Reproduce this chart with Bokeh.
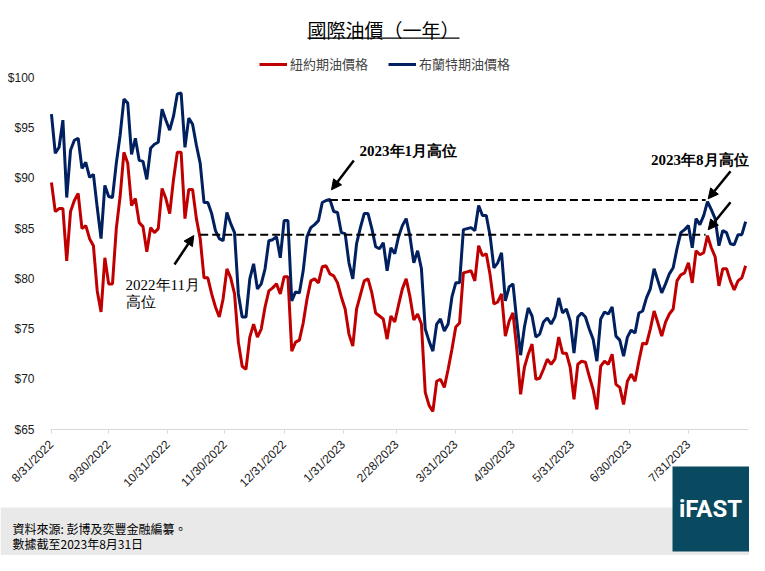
# International oil prices (one year): WTI vs Brent, drawn with bokeh
import math

import pandas as pd

from bokeh.plotting import figure
from bokeh.models import (ColumnDataSource, Range1d, FixedTicker, NumeralTickFormatter,
                          Legend, LegendItem, Label, BoxAnnotation, Arrow, NormalHead)
from bokeh.embed import file_html
from bokeh.resources import INLINE

#### DATA (one point every two days from 8/31/2022) ####
start_date = "2022-08-31"
step_days = 2

# 紐約期油價格 (WTI)
wti = [89.6, 86.7, 87.0, 87.0, 81.8, 86.7, 87.8, 88.5, 85.0, 85.3,
       84.0, 83.3, 78.8, 76.7, 82.1, 79.5, 79.5, 85.0, 88.2, 92.6,
       91.5, 87.3, 88.0, 85.6, 85.2, 82.7, 85.1, 84.6, 85.0, 89.0,
       88.0, 86.5, 89.9, 92.6, 92.6, 86.0, 88.9, 88.9, 86.0, 84.0,
       80.1, 80.1, 78.5, 77.2, 76.2, 78.0, 81.0, 80.1, 78.5, 73.7,
       71.3, 71.0, 74.2, 75.5, 74.2, 75.0, 77.2, 78.8, 79.1, 79.5,
       78.5, 80.2, 80.2, 72.8, 73.7, 73.9, 75.6, 78.0, 79.8, 80.0,
       79.6, 81.2, 81.3, 80.5, 80.3, 79.6, 78.2, 77.0, 74.5, 73.3,
       77.0, 78.4, 79.8, 80.0, 78.6, 76.6, 76.3, 76.0, 74.0, 76.3,
       75.7, 77.4, 79.0, 80.0, 78.2, 75.9, 76.5, 75.5, 68.7, 67.4,
       66.8, 69.8, 70.0, 69.2, 71.0, 73.0, 75.2, 75.6, 80.6, 80.7,
       80.8, 79.8, 83.3, 82.3, 82.5, 80.4, 77.5, 77.7, 78.5, 74.3,
       75.8, 76.6, 73.0, 68.5, 71.2, 72.5, 73.5, 70.0, 70.1, 71.0,
       72.0, 71.5, 72.0, 74.2, 72.6, 72.6, 71.2, 68.0, 71.5, 71.8,
       71.7, 70.3, 69.0, 67.0, 71.3, 71.8, 71.5, 72.5, 69.5, 69.2,
       67.5, 69.8, 70.5, 69.8, 71.8, 73.6, 73.5, 75.0, 76.8, 75.6,
       74.3, 75.7, 76.5, 77.0, 79.8, 80.4, 80.6, 81.6, 79.6, 82.8,
       82.4, 82.6, 84.3, 83.1, 82.2, 79.3, 81.0, 81.0, 79.8, 78.9,
       79.8, 80.1, 81.3]

# 布蘭特期油價格 (Brent)
brent = [96.4, 92.5, 93.1, 95.8, 88.1, 92.8, 93.8, 94.0, 91.0, 91.6,
         90.1, 90.4, 87.1, 84.0, 89.3, 88.2, 88.1, 91.5, 94.3, 97.9,
         97.5, 92.4, 94.0, 91.8, 91.7, 89.9, 93.0, 93.4, 93.6, 96.9,
         95.8, 94.8, 96.2, 98.4, 98.5, 93.1, 96.0, 95.4, 93.3, 91.5,
         87.6, 87.6, 86.5, 84.8, 84.0, 83.8, 86.6, 85.5, 84.6, 78.5,
         76.2, 76.2, 80.0, 81.5, 79.0, 79.5, 81.0, 83.8, 83.9, 84.2,
         82.1, 85.8, 85.8, 77.8, 78.7, 78.6, 80.8, 84.2, 85.1, 85.4,
         85.8, 87.6, 87.8, 87.9, 86.7, 86.6, 84.6, 84.5, 81.6, 80.0,
         83.5, 85.1, 86.5, 86.5, 85.0, 83.2, 83.0, 83.6, 80.8, 83.1,
         82.5, 84.2, 85.3, 86.0, 84.2, 81.6, 82.8, 81.0, 75.0, 73.8,
         72.8, 75.5, 76.0, 74.8, 75.5, 78.2, 79.6, 79.6, 84.9, 85.0,
         85.1, 84.8, 87.3, 86.3, 86.3, 84.3, 81.1, 81.6, 82.6, 77.8,
         79.2, 79.5, 75.8, 72.4, 75.2, 77.1, 76.3, 74.2, 74.5, 75.7,
         76.1, 75.5, 76.2, 78.1, 76.6, 77.0, 75.8, 72.6, 76.2, 76.6,
         76.2, 75.0, 74.0, 71.8, 76.0, 76.7, 76.5, 77.2, 74.3, 73.9,
         72.3, 74.2, 74.9, 74.6, 76.6, 76.8, 78.1, 79.0, 81.0, 79.8,
         78.6, 79.5, 80.5, 81.1, 83.0, 84.6, 84.9, 85.3, 83.1, 86.0,
         85.4, 86.3, 87.7, 86.9, 86.0, 83.3, 84.8, 84.6, 83.5, 83.4,
         84.4, 84.4, 85.7]

tick_dates = ["2022-08-31", "2022-09-30", "2022-10-31", "2022-11-30", "2022-12-31", "2023-01-31",
              "2023-02-28", "2023-03-31", "2023-04-30", "2023-05-31", "2023-06-30", "2023-07-31"]
tick_labels = ["8/31/2022", "9/30/2022", "10/31/2022", "11/30/2022", "12/31/2022", "1/31/2023",
               "2/28/2023", "3/31/2023", "4/30/2023", "5/31/2023", "6/30/2023", "7/31/2023"]
price_ticks = [65, 70, 75, 80, 85, 90, 95, 100]

# highs marked with dashed lines
level_prices = [87.85, 84.4]
level_from = ["2023-01-24", "2022-11-17"]
level_to = ["2023-08-09", "2023-08-09"]

#### LAYOUT: the frame fills the canvas, the plot box sits inside it ####
W, H = 749, 555
BOX_LEFT, BOX_RIGHT, BOX_TOP, BOX_BOTTOM = 50, 748, 77.5, 429
date_left = pd.Timestamp("2022-08-30 12:00")
date_right = pd.Timestamp("2023-08-31 12:00")
price_low, price_high = 65, 100

per_px_x = (date_right - date_left) / (BOX_RIGHT - BOX_LEFT)
x_start = date_left - BOX_LEFT * per_px_x
x_end = date_right + (W - BOX_RIGHT) * per_px_x
per_px_y = (price_high - price_low) / (BOX_BOTTOM - BOX_TOP)
y_end = price_high + BOX_TOP * per_px_y
y_start = price_low - (H - BOX_BOTTOM) * per_px_y

def ms(t):
    return float(pd.Timestamp(t).value // 10**6)

#### BUILD SOURCES ####
dates = pd.date_range(start_date, periods=len(wti), freq=f"{step_days}D")
src = ColumnDataSource(data=dict(date=dates, wti=wti, brent=brent))
levels = ColumnDataSource(data=dict(x0=pd.to_datetime(level_from), x1=pd.to_datetime(level_to),
                                    y=level_prices))
tick_ms = [ms(d) for d in tick_dates]

RED = "#C00000"
BLUE = "#002060"
CJK = "Noto Sans CJK TC"

#### FIGURE ####
p = figure(width=W, height=H, x_axis_type="datetime", title=None,
           x_range=Range1d(x_start, x_end), y_range=Range1d(y_start, y_end),
           toolbar_location=None, output_backend="svg",
           min_border_left=0, min_border_right=0, min_border_top=0, min_border_bottom=0)
p.outline_line_color = None
p.xgrid.visible = False
p.ygrid.visible = False

# grey footer band and logo box (drawn first, under everything else)
scr = dict(left_units="screen", right_units="screen", bottom_units="screen", top_units="screen")
p.add_layout(BoxAnnotation(left=0, right=W, top=H - 507, bottom=0, fill_color="#e9e9e9",
                           fill_alpha=1, line_color=None, level="underlay", **scr))

# lines
r_wti = p.line("date", "wti", source=src, color=RED, line_width=3)
r_brent = p.line("date", "brent", source=src, color=BLUE, line_width=3)

# dashed high levels
p.segment(x0="x0", y0="y", x1="x1", y1="y", source=levels, color="black",
          line_width=2, line_dash="8 4")

# axes, pinned to the plot box
p.xaxis.fixed_location = price_low
p.xaxis.bounds = (ms(date_left), ms(date_right))
p.xaxis.ticker = FixedTicker(ticks=tick_ms)
p.xaxis.major_label_overrides = dict(zip(tick_ms, tick_labels))
p.xaxis.major_label_orientation = math.pi / 4
p.xaxis.axis_line_color = "#d9d9d9"
p.xaxis.major_tick_line_color = "#d9d9d9"
p.xaxis.major_tick_in = 0
p.xaxis.major_tick_out = 4
p.xaxis.minor_tick_line_color = None
p.xaxis.major_label_standoff = 9

p.yaxis.fixed_location = ms(date_left)
p.yaxis.ticker = FixedTicker(ticks=price_ticks)
p.yaxis.formatter = NumeralTickFormatter(format="$0")
p.yaxis.axis_line_color = None
p.yaxis.major_tick_line_color = None
p.yaxis.minor_tick_line_color = None
p.yaxis.major_label_standoff = 10

for ax in (p.xaxis[0], p.yaxis[0]):
    ax.major_label_text_font = "Liberation Sans"
    ax.major_label_text_font_size = "12px"
    ax.major_label_text_color = "#1a1a1a"

# legend
legend = Legend(items=[LegendItem(label="紐約期油價格", renderers=[r_wti]),
                       LegendItem(label="布蘭特期油價格", renderers=[r_brent])],
                location=(259, H - 73), orientation="horizontal")
legend.label_text_font = CJK
legend.label_text_font_size = "13px"
legend.glyph_width = 28
legend.glyph_height = 16
legend.label_height = 16
legend.label_standoff = 3
legend.spacing = 20
legend.padding = 0
legend.margin = 0
legend.border_line_color = None
legend.background_fill_alpha = 0
p.add_layout(legend)

#### TITLE, NOTES AND FOOTER (screen units, y up from the canvas bottom) ####
p.add_layout(Label(x=383, y=H - 29, x_units="screen", y_units="screen", text="國際油價（一年）",
                   text_font=CJK, text_font_size="19px", text_align="center",
                   text_baseline="middle", text_color="black"))
p.add_layout(BoxAnnotation(left=307, right=459, bottom=H - 38.3, top=H - 37, fill_color="black",
                           fill_alpha=1, line_color=None, **scr))

note_style = dict(x_units="screen", y_units="screen", text_font="Liberation Serif",
                  text_font_size="15px", text_baseline="middle", text_color="black")
p.add_layout(Label(x=359, y=H - 150, text="2023年1月高位", text_font_style="bold", **note_style))
p.add_layout(Label(x=748, y=H - 159, text="2023年8月高位", text_font_style="bold",
                   text_align="right", **note_style))
p.add_layout(Label(x=125, y=H - 284, text="2022年11月", **note_style))
p.add_layout(Label(x=125, y=H - 301, text="高位", **note_style))

arrows = [(174, 264, 193.3, 235), (353.3, 160, 331, 189.3),
          (730, 170.7, 707.7, 198.3), (730, 201.7, 707.7, 229.3)]
for xs, ys, xe, ye in arrows:
    p.add_layout(Arrow(x_start=xs, y_start=H - ys, x_end=xe, y_end=H - ye,
                       start_units="screen", end_units="screen", line_width=2.5,
                       line_color="black",
                       end=NormalHead(size=10, fill_color="black", line_color="black")))

# logo
p.add_layout(BoxAnnotation(left=672, right=749, top=H - 466, bottom=H - 551,
                           fill_color="#0a4a60", fill_alpha=1, line_color=None, **scr))
p.add_layout(Label(x=710, y=H - 508, x_units="screen", y_units="screen", text="iFAST",
                   text_font="Roboto", text_font_style="bold", text_font_size="24px",
                   text_align="center", text_baseline="middle", text_color="white"))

foot_style = dict(x_units="screen", y_units="screen", text_font=CJK, text_font_size="12px",
                  text_baseline="middle", text_color="black")
p.add_layout(Label(x=12, y=H - 527.5, text="資料來源: 彭博及奕豐金融編纂。", **foot_style))
p.add_layout(Label(x=12, y=H - 543, text="數據截至2023年8月31日", **foot_style))

open("out.html", "w").write(file_html(p, INLINE))
